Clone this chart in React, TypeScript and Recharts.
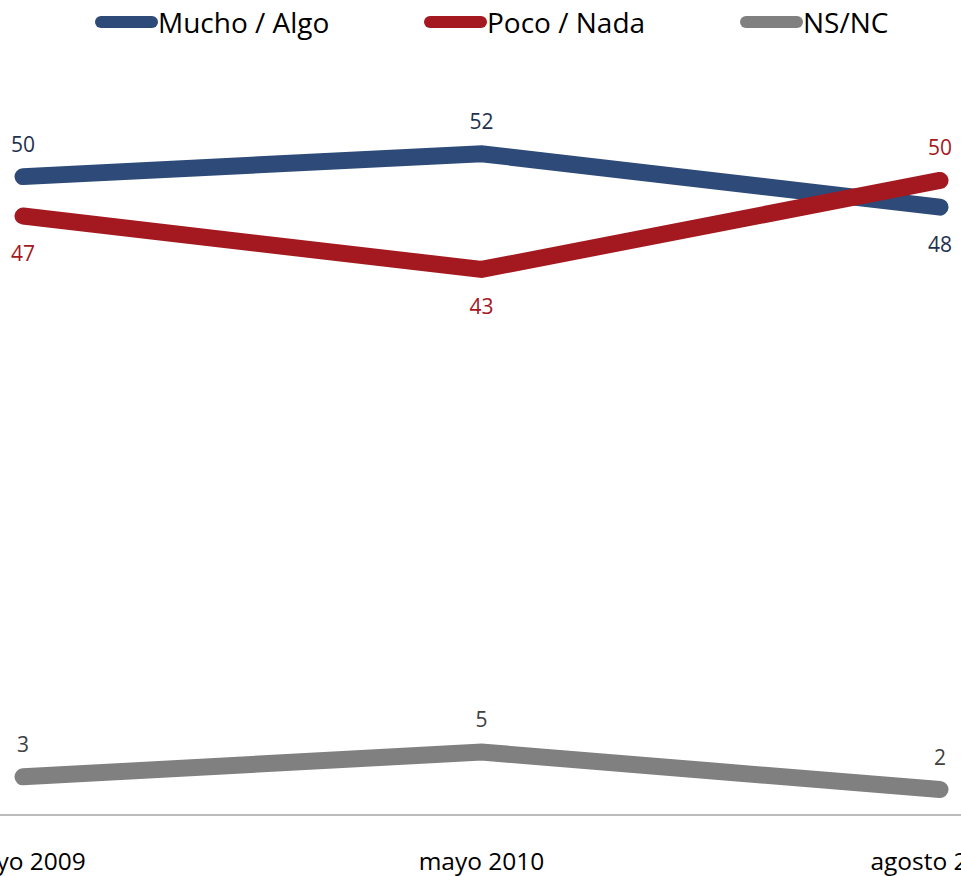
import { LineChart, Line, XAxis, YAxis, LabelList } from 'recharts';

const periods = ['mayo 2009', 'mayo 2010', 'agosto 2010'];
const muchoAlgo = [50.2, 52.0, 47.8];
const pocoNada = [47.1, 42.9, 49.9];
const nsnc = [3.0, 4.95, 2.0];

const seriesNames = ['Mucho / Algo', 'Poco / Nada', 'NS/NC'];

const FONT = '"Open Sans", Lato, sans-serif';

const data = periods.map((p, i) => ({
  period: p,
  mucho: muchoAlgo[i],
  poco: pocoNada[i],
  ns: nsnc[i],
}));

const series = [
  { key: 'mucho', name: seriesNames[0], color: '#2D4A78', labelColor: '#1F3150', place: ['above', 'above', 'below'], legendX: 95 },
  { key: 'poco', name: seriesNames[1], color: '#A3191F', labelColor: '#A3191F', place: ['below', 'below', 'above'], legendX: 424 },
  { key: 'ns', name: seriesNames[2], color: '#808080', labelColor: '#404040', place: ['above', 'above', 'above'], legendX: 740 },
];

function makeLabel(color: string, place: string[]) {
  return (props: any) => {
    const { x, y, value, index } = props;
    const below = place[index] === 'below';
    return (
      <text
        x={x}
        y={below ? y + 37 : y - 33}
        fill={color}
        fontSize={21}
        fontFamily={FONT}
        textAnchor="middle"
        dominantBaseline="central"
      >
        {Math.round(value)}
      </text>
    );
  };
}

function PeriodTick(props: any) {
  const { x, y, payload } = props;
  return (
    <text x={x} y={y + 47} fill="#000" fontSize={24.5} fontFamily={FONT} textAnchor="middle">
      {payload.value}
    </text>
  );
}

function TopLegend() {
  return (
    <>
      {series.map(s => (
        <div
          key={s.key}
          style={{
            position: 'absolute',
            top: 4,
            left: s.legendX,
            display: 'flex',
            alignItems: 'center',
            fontFamily: FONT,
            fontSize: 28,
            color: '#000',
            lineHeight: '36px',
            whiteSpace: 'nowrap',
          }}
        >
          <svg width={63} height={14}>
            <line x1={6} y1={7} x2={57} y2={7} stroke={s.color} strokeWidth={12} strokeLinecap="round" />
          </svg>
          <span>{s.name}</span>
        </div>
      ))}
    </>
  );
}

export default function App() {
  return (
    <div style={{ position: 'absolute', top: 0, left: 0, width: 961, height: 876, background: '#fff' }}>
      <TopLegend />
      <LineChart width={961} height={876} data={data} margin={{ top: 52, right: 0, bottom: 21, left: 0 }}>
        <XAxis
          dataKey="period"
          height={40}
          padding={{ left: 23, right: 21 }}
          axisLine={{ stroke: '#A6A6A6', strokeWidth: 1.5 }}
          tickLine={false}
          tick={<PeriodTick />}
          interval={0}
        />
        <YAxis hide domain={[0, 60]} />
        {series.map(s => (
          <Line
            key={s.key}
            dataKey={s.key}
            name={s.name}
            stroke={s.color}
            strokeWidth={17}
            strokeLinecap="round"
            dot={false}
            activeDot={false}
            isAnimationActive={false}
          >
            <LabelList dataKey={s.key} content={makeLabel(s.labelColor, s.place)} />
          </Line>
        ))}
      </LineChart>
    </div>
  );
}
